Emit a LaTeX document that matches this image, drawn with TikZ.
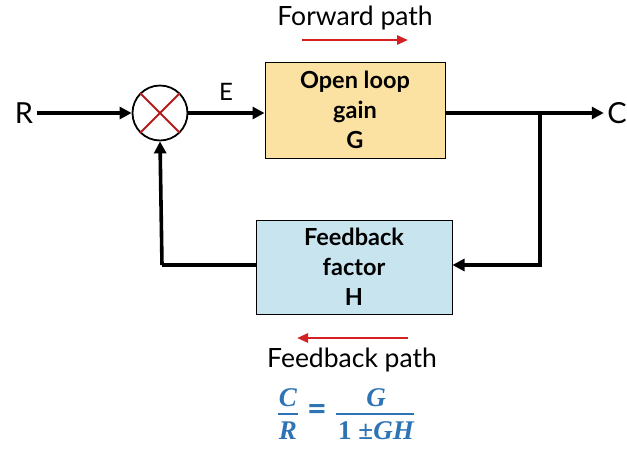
\documentclass[tikz,border=0pt]{standalone}
\usepackage{fontspec}
\setmainfont{Lato}
\newfontfamily\formfont{Liberation Serif}
\usetikzlibrary{arrows.meta}
\definecolor{gainfill}{HTML}{FBE2A2}
\definecolor{fbfill}{HTML}{C8E4EE}
\definecolor{pathred}{HTML}{D42020}
\definecolor{formblue}{HTML}{2E74B5}
\tikzset{
  x=1pt, y=-1pt,
  signal/.style={line width=3.6pt, -{Triangle[length=12pt,width=12pt]}},
  plainline/.style={line width=3.6pt},
  blockbox/.style={draw=black, line width=1pt, align=center, font=\fontsize{23.5}{30}\selectfont\bfseries, inner sep=0pt},
  siglabel/.style={font=\fontsize{29}{30}\selectfont},
  pathlabel/.style={font=\fontsize{26.5}{30}\selectfont},
  patharrow/.style={line width=2.6pt, pathred, -{Triangle[length=11pt,width=9pt]}},
  formtext/.style={text=formblue, inner sep=0pt, font=\fontsize{27}{30}\selectfont\formfont\bfseries\itshape},
  formbar/.style={draw=formblue, line width=1.8pt}
}
\begin{document}
\begin{tikzpicture}
\useasboundingbox (0,0) rectangle (627,448);
\fill[white] (0,0) rectangle (627,448);

% blocks
\node[blockbox, fill=gainfill, minimum width=180pt, minimum height=96pt] (G) at (355,110) {Open loop\\gain\\G};
\node[blockbox, fill=fbfill, minimum width=196pt, minimum height=94pt] (H) at (354,267) {Feedback\\factor\\H};

% summing junction
\node[draw, circle, line width=1.8pt, minimum size=55pt, inner sep=0pt] (S) at (160,113) {};
\draw[line width=1.8pt, pathred!85!black] (S.45) -- (S.225) (S.135) -- (S.315);

% signal labels
\node[siglabel] (R) at (24,113) {R};
\node[siglabel] (C) at (617,113) {C};
\node[siglabel, font=\fontsize{24}{26}\selectfont] (E) at (226,92) {E};

% connectors
\coordinate (branch) at (540,113);
\coordinate (fbcorner) at (540,265);
\coordinate (retcorner) at (162,265);
\draw[signal] (R.east) -- (S.west);
\draw[signal] (S.east) -- (S.east -| G.west);
\draw[signal] (G.east |- branch) -- (C.west);
\draw[signal] (branch) -- (fbcorner) -- (fbcorner -| H.east);
\draw[plainline] (H.west |- retcorner) -- (retcorner);
\draw[signal] (retcorner) -- (S.south);

% path annotations
\node[pathlabel] (fwd) at (355,18) {Forward path};
\coordinate (fwdA) at (302,40);
\coordinate (fwdB) at (408,40);
\draw[patharrow] (fwdA) -- (fwdB);
\node[pathlabel] (fb) at (352,360) {Feedback path};
\coordinate (fbA) at (408,338);
\coordinate (fbB) at (297,338);
\draw[patharrow] (fbA) -- (fbB);

% closed-loop ratio C/R = G/(1 ± GH)
\node[formtext] (numL) at (288,398) {C};
\node[formtext] (denL) at (288,431) {R};
\coordinate (barLa) at (278,414);
\coordinate (barLb) at (298,414);
\draw[formbar] (barLa) -- (barLb);
\node[formtext, font=\fontsize{34}{34}\selectfont\bfseries] (eq) at (317,413) {=};
\node[formtext] (numR) at (376,398) {G};
\node[formtext] (denR) at (376,431) {\upshape 1 \itshape ±GH};
\coordinate (barRa) at (336,414);
\coordinate (barRb) at (414,414);
\draw[formbar] (barRa) -- (barRb);
\end{tikzpicture}
\end{document}
